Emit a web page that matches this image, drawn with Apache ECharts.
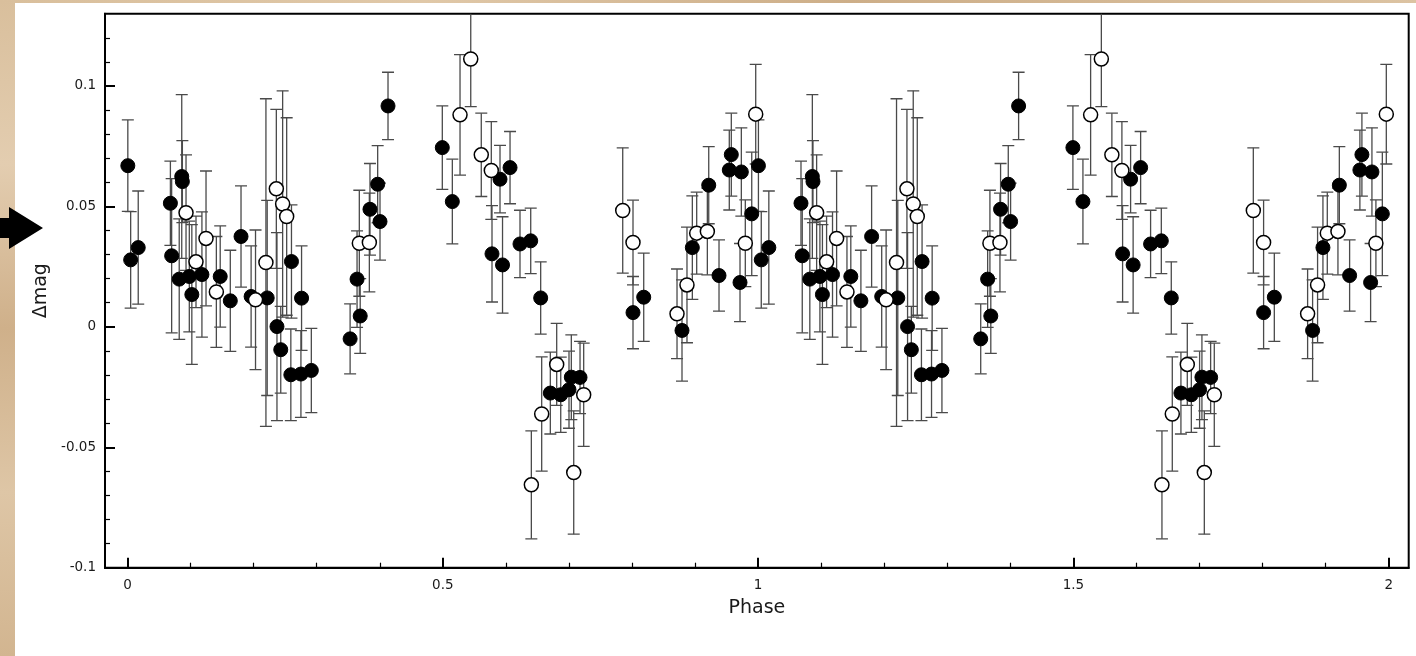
<!DOCTYPE html>
<html><head><meta charset="utf-8">
<script src="https://cdn.jsdelivr.net/npm/echarts@6/dist/echarts.min.js"></script>
<style>html,body{margin:0;padding:0;background:#fff;}#c{width:1416px;height:656px;}</style>
</head><body><div id="c"></div>
<script>
// Filled circles: phase in [0,1), Δmag, error (half-length)
const filledPhase = [
  0.0005, 0.005, 0.017, 0.068, 0.070,
  0.082, 0.086, 0.087, 0.098, 0.102,
  0.118, 0.147, 0.163, 0.180, 0.196,
  0.2215, 0.237, 0.243, 0.259, 0.260,
  0.275, 0.276, 0.2915, 0.353, 0.364,
  0.369, 0.3845, 0.3967, 0.4004, 0.4131,
  0.4992, 0.5151, 0.578, 0.5907, 0.5947,
  0.6066, 0.6224, 0.6394, 0.6552, 0.6705,
  0.687, 0.7001, 0.7038, 0.7176, 0.8016,
  0.8186, 0.8793, 0.8957, 0.9217, 0.938,
  0.9543, 0.9575, 0.9713, 0.9734, 0.9899
];
const filledMag = [
  0.0669, 0.0278, 0.0329, 0.0513, 0.0295,
  0.0198, 0.0624, 0.0603, 0.0209, 0.0134,
  0.0217, 0.0209, 0.0108, 0.0375, 0.0126,
  0.0120, 0.0001, -0.0095, -0.0199, 0.0271,
  -0.0196, 0.0119, -0.0181, -0.0050, 0.0198,
  0.0045, 0.0488, 0.0592, 0.0437, 0.0917,
  0.0744, 0.0520, 0.0303, 0.0613, 0.0257,
  0.0661, 0.0344, 0.0357, 0.0120, -0.0275,
  -0.0282, -0.0261, -0.0209, -0.0210, 0.0059,
  0.0123, -0.0015, 0.0329, 0.0588, 0.0213,
  0.0651, 0.0715, 0.0184, 0.0643, 0.0469
];
const filledErr = [
  0.019, 0.020, 0.0235, 0.0175, 0.032,
  0.025, 0.034, 0.017, 0.023, 0.029,
  0.026, 0.021, 0.021, 0.021, 0.021,
  0.0405, 0.039, 0.018, 0.019, 0.0235,
  0.018, 0.0217, 0.0175, 0.0145, 0.020,
  0.0155, 0.019, 0.016, 0.016, 0.014,
  0.0173, 0.0176, 0.020, 0.014, 0.020,
  0.015, 0.014, 0.0136, 0.015, 0.017,
  0.0156, 0.016, 0.0176, 0.015, 0.015,
  0.0183, 0.021, 0.0215, 0.016, 0.0148,
  0.0166, 0.0172, 0.0162, 0.0183, 0.0256
];
// Open circles
const openPhase = [
  0.0928, 0.1086, 0.1245, 0.1409, 0.203,
  0.2195, 0.236, 0.246, 0.2524, 0.3676,
  0.3835, 0.5273, 0.5443, 0.561, 0.5769,
  0.6404, 0.6568, 0.6806, 0.7076, 0.7234,
  0.7853, 0.8016, 0.8714, 0.8872, 0.9026,
  0.9195, 0.9797, 0.9962
];
const openMag = [
  0.0474, 0.0270, 0.0367, 0.0145, 0.0112,
  0.0267, 0.0573, 0.0510, 0.0458, 0.0347,
  0.0350, 0.0880, 0.1112, 0.0714, 0.0649,
  -0.0656, -0.0362, -0.0156, -0.0605, -0.0282,
  0.0483, 0.0350, 0.0054, 0.0174, 0.0389,
  0.0396, 0.0347, 0.0883
];
const openErr = [
  0.024, 0.019, 0.028, 0.023, 0.029,
  0.068, 0.033, 0.047, 0.041, 0.022,
  0.0205, 0.025, 0.0198, 0.0173, 0.0203,
  0.0224, 0.0237, 0.017, 0.0256, 0.0214,
  0.026, 0.0176, 0.0186, 0.024, 0.017,
  0.018, 0.018, 0.0207
];
// Each phase is plotted in two cycles
const cycles = [0, 1];
const xMajorTicks = [0, 0.5, 1, 1.5, 2];
const xMinorTicks = [0.1,0.2,0.3,0.4,0.6,0.7,0.8,0.9,1.1,1.2,1.3,1.4,1.6,1.7,1.8,1.9];
const yMajorTicks = [-0.1, -0.05, 0, 0.05, 0.1];
const yMinorTicks = [-0.09,-0.08,-0.07,-0.06,-0.04,-0.03,-0.02,-0.01,0.01,0.02,0.03,0.04,0.06,0.07,0.08,0.09,0.11,0.12];

const X_MIN = -0.0357, X_MAX = 2.0317, Y_MIN = -0.1, Y_MAX = 0.13;

function fold(ph, mag, err) {
  const out = [];
  cycles.forEach(c => {
    ph.forEach((p, i) => {
      const x = p + c;
      if (x <= X_MAX) out.push([x, mag[i], err[i]]);
    });
  });
  return out;
}
const filledData = fold(filledPhase, filledMag, filledErr);
const openData = fold(openPhase, openMag, openErr);

function errRender(params, api) {
  const x = api.value(0), y = api.value(1), e = api.value(2);
  const t = api.coord([x, y + e]);
  const b = api.coord([x, y - e]);
  const hw = 6;
  const style = { stroke: '#4a4a4a', lineWidth: 1.3, fill: null };
  return {
    type: 'group',
    children: [
      { type: 'line', shape: { x1: t[0], y1: t[1], x2: b[0], y2: b[1] }, style },
      { type: 'line', shape: { x1: t[0] - hw, y1: t[1], x2: t[0] + hw, y2: t[1] }, style },
      { type: 'line', shape: { x1: b[0] - hw, y1: b[1], x2: b[0] + hw, y2: b[1] }, style }
    ]
  };
}

const FONT = 'DejaVu Sans';
const labelStyle = { fontFamily: FONT, fontSize: 13.5, color: '#1a1a1a' };

const chart = echarts.init(document.getElementById('c'), null, { renderer: 'canvas' });
chart.setOption({
  backgroundColor: '#ffffff',
  animation: false,
  grid: { left: 105, right: 7.3, top: 13.7, bottom: 88.3, show: true, borderColor: '#000', borderWidth: 2, backgroundColor: '#fff' },
  xAxis: [
    {
      type: 'value', min: X_MIN, max: X_MAX, position: 'bottom',
      axisLine: { show: true, onZero: false, lineStyle: { color: '#000', width: 2 } },
      axisTick: { show: true, inside: true, length: 10, customValues: xMajorTicks, lineStyle: { color: '#000', width: 2 } },
      axisLabel: Object.assign({ customValues: xMajorTicks, margin: 11, formatter: v => String(v) }, labelStyle),
      splitLine: { show: false },
      name: 'Phase', nameLocation: 'middle', nameGap: 31,
      nameTextStyle: { fontFamily: FONT, fontSize: 19, color: '#1a1a1a' }
    },
    {
      type: 'value', min: X_MIN, max: X_MAX, position: 'bottom',
      axisLine: { show: false, onZero: false },
      axisTick: { show: true, inside: true, length: 5, customValues: xMinorTicks, lineStyle: { color: '#000', width: 1.2 } },
      axisLabel: { show: false },
      splitLine: { show: false }
    }
  ],
  yAxis: [
    {
      type: 'value', min: Y_MIN, max: Y_MAX, position: 'left',
      axisLine: { show: true, onZero: false, lineStyle: { color: '#000', width: 2 } },
      axisTick: { show: true, inside: true, length: 10, customValues: yMajorTicks, lineStyle: { color: '#000', width: 2 } },
      axisLabel: Object.assign({ customValues: yMajorTicks, margin: 9, formatter: v => String(v) }, labelStyle),
      splitLine: { show: false },
      name: 'Δmag', nameLocation: 'middle', nameGap: 43, nameRotate: 90,
      nameTextStyle: { fontFamily: FONT, fontSize: 19, color: '#1a1a1a' }
    },
    {
      type: 'value', min: Y_MIN, max: Y_MAX, position: 'left',
      axisLine: { show: false, onZero: false },
      axisTick: { show: true, inside: true, length: 5, customValues: yMinorTicks, lineStyle: { color: '#000', width: 1.2 } },
      axisLabel: { show: false },
      splitLine: { show: false }
    }
  ],
  graphic: [
    { type: 'rect', left: 0, top: 0, shape: { width: 15, height: 656 }, z: 100,
      style: { fill: new echarts.graphic.LinearGradient(0, 0, 0, 1, [
        { offset: 0, color: '#d9bf9c' }, { offset: 0.25, color: '#e3cdb0' },
        { offset: 0.5, color: '#cfb08a' }, { offset: 0.75, color: '#dec6a6' }, { offset: 1, color: '#d2b590' }]) } },
    { type: 'rect', left: 0, top: 0, shape: { width: 1416, height: 3 }, z: 100,
      style: { fill: new echarts.graphic.LinearGradient(0, 0, 1, 0, [
        { offset: 0, color: '#d9bf9c' }, { offset: 0.3, color: '#e0c8a8' },
        { offset: 0.6, color: '#cdae88' }, { offset: 1, color: '#dcc3a2' }]) } },
    { type: 'polygon', z: 101,
      shape: { points: [[0, 218], [9, 218], [9, 207], [43, 228], [9, 249], [9, 238], [0, 238]] },
      style: { fill: '#000' } }
  ],
  series: [
    { type: 'custom', name: 'errFilled', xAxisIndex: 0, yAxisIndex: 0, renderItem: errRender, data: filledData, clip: true, z: 1,
      encode: { x: 0, y: 1 } },
    { type: 'custom', name: 'errOpen', xAxisIndex: 0, yAxisIndex: 0, renderItem: errRender, data: openData, clip: true, z: 1,
      encode: { x: 0, y: 1 } },
    { type: 'scatter', name: 'filled', xAxisIndex: 0, yAxisIndex: 0, data: filledData, symbol: 'circle', symbolSize: 14, clip: true, z: 3,
      itemStyle: { color: '#000', borderColor: '#000', borderWidth: 1, opacity: 1 } },
    { type: 'scatter', name: 'open', xAxisIndex: 0, yAxisIndex: 0, data: openData, symbol: 'circle', symbolSize: 14, clip: true, z: 4,
      itemStyle: { color: '#fff', borderColor: '#000', borderWidth: 1.5, opacity: 1 } }
  ]
});
</script>
</body></html>
